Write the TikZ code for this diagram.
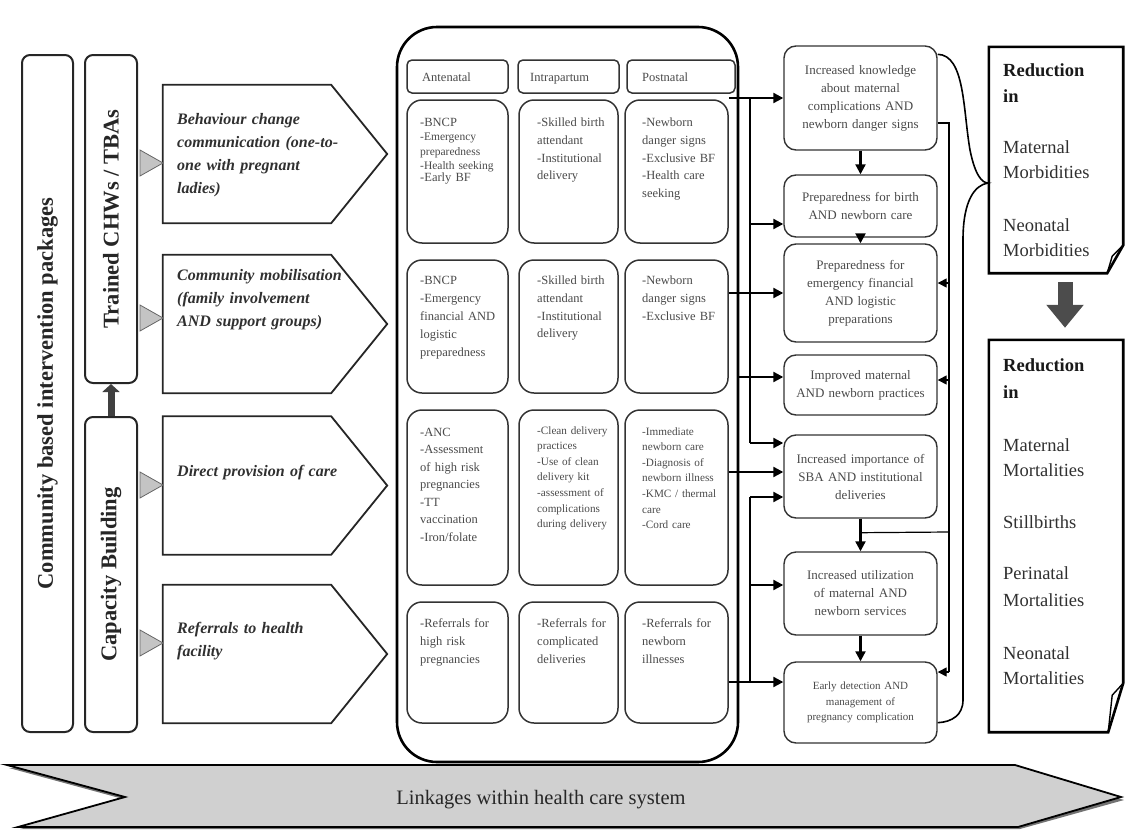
\documentclass[tikz,border=0pt]{standalone}
\usepackage{fontspec}
\setmainfont{Liberation Serif}
\usetikzlibrary{arrows.meta,calc}
\definecolor{txtA}{HTML}{303030}
\definecolor{txtB}{HTML}{4A4A4A}
\definecolor{triG}{HTML}{C4C4C4}
\definecolor{bandG}{HTML}{D0D0D0}
\begin{document}
\begin{tikzpicture}[x=1pt,y=-1pt,
  lbox/.style={draw=black!85, line width=2pt, rounded corners=8pt, inner sep=0pt, font=\fontsize{22.5}{26}\selectfont\bfseries, text=black!85, rotate=90},
  pentbox/.style={minimum width=224pt, minimum height=138pt, inner sep=0pt},
  pentline/.style={draw=black!85, line width=1.8pt, line join=miter},
  ptext/.style={anchor=north west, inner sep=0pt, align=left, text width=170pt, font=\fontsize{16}{23}\selectfont\bfseries\itshape, text=txtA},
  tri/.style={fill=triG, draw=black!60, line width=0.8pt},
  cont/.style={draw=black, line width=2.6pt, rounded corners=40pt, inner sep=0pt},
  hdr/.style={draw=black!80, line width=1.5pt, rounded corners=5pt, inner sep=0pt},
  htext/.style={anchor=base west, inner sep=0pt, font=\fontsize{12.5}{15}\selectfont, text=txtB},
  cell/.style={draw=black!80, line width=1.5pt, rounded corners=15pt, inner sep=0pt},
  ctext/.style={anchor=north west, inner sep=0pt, align=left, text width=100pt, font=\fontsize{12.5}{17.8}\selectfont, text=txtB},
  csmall/.style={ctext, font=\fontsize{11.2}{15.6}\selectfont},
  outc/.style={draw=black!80, line width=1.4pt, rounded corners=12pt, text width=142pt, inner xsep=5.5pt, inner ysep=0pt, align=center, font=\fontsize{13}{18}\selectfont, text=txtB},
  arr/.style={line width=2.2pt, -{Triangle[length=10pt,width=10pt]}},
  thinl/.style={line width=1.2pt},
  tarr/.style={line width=1.4pt, -{Triangle[length=9pt,width=9pt]}},
  doc/.style={draw=black, line width=2.6pt, line join=miter},
  dtext/.style={anchor=north west, inner sep=0pt, align=left, text width=115pt, font=\fontsize{18.5}{25}\selectfont, text=txtA},
  dbold/.style={dtext, font=\fontsize{18.5}{26}\selectfont\bfseries, text=black!90}
]
\useasboundingbox (0,0) rectangle (1125,830);

% left vertical boxes
\node[lbox, minimum width=677pt, minimum height=51pt] (cbp) at (47.5,393.5) {Community based intervention packages};
\node[lbox, minimum width=328pt, minimum height=52pt] (tr) at (111,219) {Trained CHWs / TBAs};
\node[lbox, minimum width=315pt, minimum height=52pt] (cap) at (111,574.5) {Capacity Building};
\draw[line width=7pt, draw=black!75, -{Triangle[length=8pt,width=17pt]}] (cap.east) -- (tr.west);

% pentagons
\foreach \n/\y in {p1/154, p2/324, p3/485.5, p4/654}{
  \node[pentbox] (\n) at (275,\y) {};
  \draw[pentline] (\n.north west) -- ($(\n.north east)+(-56,0)$) -- (\n.east) -- ($(\n.south east)+(-56,0)$) -- (\n.south west) -- cycle;
}
\filldraw[tri] (140,150) -- (163,163) -- (140,176) -- cycle;
\filldraw[tri] (140,305) -- (163,318) -- (140,331) -- cycle;
\filldraw[tri] (140,472) -- (163,485) -- (140,498) -- cycle;
\filldraw[tri] (140,630) -- (163,643) -- (140,656) -- cycle;
\node[ptext] at (177,113.6) {Behaviour change\\communication (one-to-\\one with pregnant\\ladies)};
\node[ptext] at (177,269.6) {Community mobilisation\\(family involvement\\AND support groups)};
\node[ptext] at (177,464.6) {Direct provision of care};
\node[ptext] at (177,621.6) {Referrals to health\\facility};

% container
\node[cont, minimum width=341pt, minimum height=735pt] (cont) at (567.5,394.5) {};
\node[hdr, minimum width=101pt, minimum height=33pt] (h1) at (457.5,76.5) {};
\node[hdr, minimum width=101pt, minimum height=33pt] (h2) at (568.5,76.5) {};
\node[hdr, minimum width=108pt, minimum height=33pt] (h3) at (681,76.5) {};
\node[htext] at (422,81.5) {Antenatal};
\node[htext] at (530,81.5) {Intrapartum};
\node[htext] at (642,81.5) {Postnatal};

% cells
\node[cell, minimum width=101pt, minimum height=143pt] (c11) at (457.5,171.5) {};
\node[cell, minimum width=99pt, minimum height=143pt] (c12) at (568.5,171.5) {};
\node[cell, minimum width=103pt, minimum height=143pt] (c13) at (676.5,171.5) {};
\node[cell, minimum width=101pt, minimum height=133pt] (c21) at (457.5,326.5) {};
\node[cell, minimum width=99pt, minimum height=133pt] (c22) at (568.5,326.5) {};
\node[cell, minimum width=103pt, minimum height=133pt] (c23) at (676.5,326.5) {};
\node[cell, minimum width=101pt, minimum height=175pt] (c31) at (457.5,497.5) {};
\node[cell, minimum width=99pt, minimum height=175pt] (c32) at (568.5,497.5) {};
\node[cell, minimum width=103pt, minimum height=175pt] (c33) at (676.5,497.5) {};
\node[cell, minimum width=101pt, minimum height=121pt] (c41) at (457.5,662.5) {};
\node[cell, minimum width=99pt, minimum height=121pt] (c42) at (568.5,662.5) {};
\node[cell, minimum width=103pt, minimum height=121pt] (c43) at (676.5,662.5) {};

\node[ctext] at (420,117.7) {-BNCP};
\node[csmall, font=\fontsize{11.5}{14.5}\selectfont] at (420,133.2) {-Emergency\\preparedness\\-Health seeking};
\node[ctext] at (420,172.5) {-Early BF};
\node[ctext] at (537,117.7) {-Skilled birth\\attendant\\-Institutional\\delivery};
\node[ctext] at (642,117.7) {-Newborn\\danger signs\\-Exclusive BF\\-Health care\\seeking};
\node[ctext, font=\fontsize{12.5}{18.2}\selectfont] at (420,275.7) {-BNCP\\-Emergency\\financial AND\\logistic\\preparedness};
\node[ctext] at (537,275.7) {-Skilled birth\\attendant\\-Institutional\\delivery};
\node[ctext] at (642,275.7) {-Newborn\\danger signs\\-Exclusive BF};
\node[ctext, font=\fontsize{12.5}{17.5}\selectfont] at (420,427.7) {-ANC\\-Assessment\\of high risk\\pregnancies\\-TT\\vaccination\\-Iron/folate};
\node[csmall] at (537,426.2) {-Clean delivery\\practices\\-Use of clean\\delivery kit\\-assessment of\\complications\\during delivery};
\node[csmall] at (642,427.2) {-Immediate\\newborn care\\-Diagnosis of\\newborn illness\\-KMC / thermal\\care\\-Cord care};
\node[ctext] at (420,618.7) {-Referrals for\\high risk\\pregnancies};
\node[ctext] at (537,618.7) {-Referrals for\\complicated\\deliveries};
\node[ctext] at (642,618.7) {-Referrals for\\newborn\\illnesses};

% outcomes
\node[outc, minimum height=104pt] (O1) at (860.5,98) {Increased knowledge\\about maternal\\complications AND\\newborn danger signs};
\node[outc, minimum height=62pt] (O2) at (860.5,206) {Preparedness for birth\\AND newborn care};
\node[outc, minimum height=98pt] (O3) at (860.5,293) {Preparedness for\\emergency financial\\AND logistic\\preparations};
\node[outc, minimum height=60pt] (O4) at (860.5,385) {Improved maternal\\AND newborn practices};
\node[outc, minimum height=83pt] (O5) at (860.5,476.5) {Increased importance of\\SBA AND institutional\\deliveries};
\node[outc, minimum height=83pt] (O6) at (860.5,593.5) {Increased utilization\\of maternal AND\\newborn services};
\node[outc, minimum height=81pt, font=\fontsize{11}{15.5}\selectfont] (O7) at (860.5,702.5) {Early detection AND\\management of\\pregnancy complication};

% left connectors
\coordinate (lx) at (750,0);
\draw[arr] (c13.east |- O1.west) -- (O1.west);
\draw[arr] (c23.east |- O3.west) -- (O3.west);
\draw[arr] (cont.east |- 0,377) -- (O4.west |- 0,377);
\draw[arr] (c33.east |- 0,472) -- (O5.west |- 0,472);
\draw[arr] (c43.east |- 0,682) -- (O7.west |- 0,682);
\draw[thinl] (lx |- O1.west) -- (lx |- 0,443);
\draw[arr] (lx |- 0,224) -- (O2.west |- 0,224);
\draw[arr] (lx |- 0,443) -- (O5.west |- 0,443);
\draw[thinl] (lx |- 0,497) -- (lx |- 0,682);
\draw[arr] (lx |- 0,497) -- (O5.west |- 0,497);
\draw[arr] (lx |- 0,585) -- (O6.west |- 0,585);

% vertical arrows
\draw[arr] (O1.south) -- (O2.north);
\draw[arr] (O2.south) -- (O3.north);
\draw[arr] (O5.south) -- (O6.north);
\draw[arr] (O6.south) -- (O7.north);

% right connectors
\coordinate (rx) at (949,0);
\draw[thinl] ($(O1.east)+(0,25)$) -- (rx |- 0,123) -- (rx |- 0,672);
\draw[tarr] (rx |- 0,672) -- (O7.east |- 0,672);
\draw[tarr] (rx |- 0,283) -- (O3.east |- 0,283);
\draw[tarr] (rx |- 0,380) -- (O4.east |- 0,380);
\draw[thinl] ($(O5.south)+(0,14)$) -- (rx |- 0,532);

% brace
\coordinate (bp) at (988,183);
\draw[line width=1.6pt] ($(O1.north east)+(0,9)$) .. controls (965,55) and (963,110) .. (970,150) .. controls (975,175) and (982,183) .. (bp) .. controls (975,185) and (963,200) .. (963,240) -- (963,700) .. controls (963,715) and (952,722) .. ($(O7.south east)+(0,-21)$);

% documents
\node[minimum width=134pt, minimum height=226pt, inner sep=0pt] (d1) at (1056,160) {};
\node[minimum width=134pt, minimum height=392pt, inner sep=0pt] (d2) at (1056,536) {};
\draw[doc] (d1.north west) -- (d1.north east) -- ($(d1.south east)+(0,-28)$) -- ($(d1.south east)+(-16,0)$) -- (d1.south west) -- cycle;
\draw[line width=1.4pt] ($(d1.south east)+(0,-28)$) -- ($(d1.south east)+(-11,-17)$) -- ($(d1.south east)+(-16,0)$);
\draw[doc] (d2.north west) -- (d2.north east) -- ($(d2.south east)+(0,-49)$) -- ($(d2.south east)+(-15,0)$) -- (d2.south west) -- cycle;
\draw[line width=1.4pt] ($(d2.south east)+(0,-49)$) -- ($(d2.south east)+(-11,-37)$) -- ($(d2.south east)+(-15,0)$);
\draw[line width=15pt, draw=black!70, -{Triangle[length=23pt,width=36pt]}] ($(d1.south)+(9,9)$) -- ($(d2.north)+(9,-12)$);

\node[dbold] at (1003,63.7) {Reduction\\in};
\node[dtext] at (1003,140.7) {Maternal\\Morbidities};
\node[dtext] at (1003,218.7) {Neonatal\\Morbidities};
\node[dbold, font=\fontsize{18.5}{27}\selectfont\bfseries] at (1003,358.7) {Reduction\\in};
\node[dtext] at (1003,438.7) {Maternal\\Mortalities};
\node[dtext] at (1003,515.7) {Stillbirths};
\node[dtext, font=\fontsize{18.5}{26.5}\selectfont] at (1003,566.7) {Perinatal\\Mortalities};
\node[dtext] at (1003,646.7) {Neonatal\\Mortalities};

% bottom band
\fill[black!55] (9,768) -- (1017,768) -- (1124,800) -- (1020,829) -- (20,829) -- (127,800) -- cycle;
\filldraw[fill=bandG, draw=black, line width=1.8pt] (7,765) -- (1015,765) -- (1121,797) -- (1018,827) -- (18,827) -- (125,797) -- cycle;
\node[font=\fontsize{20.5}{24}\selectfont, text=black!85] (link) at (541,800) {Linkages within health care system};
\end{tikzpicture}
\end{document}
